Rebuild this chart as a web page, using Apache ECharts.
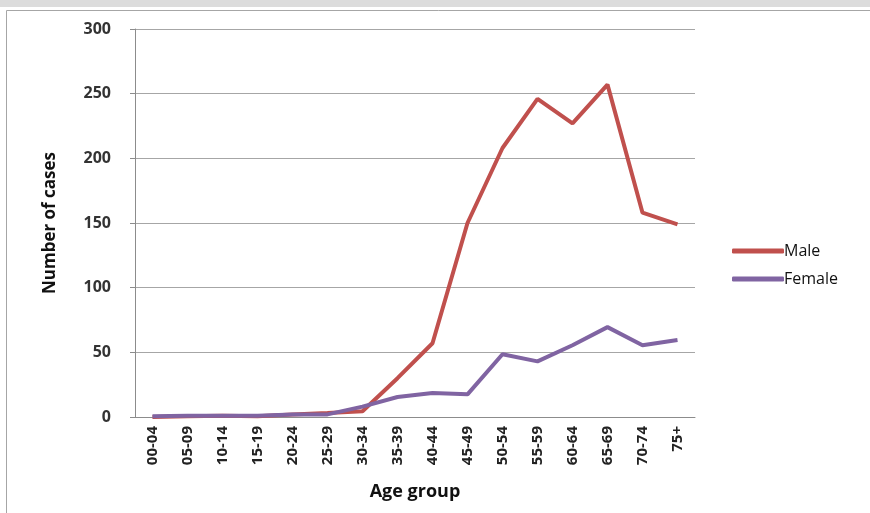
<!DOCTYPE html>
<html><head><meta charset="utf-8">
<script src="https://cdn.jsdelivr.net/npm/echarts@6/dist/echarts.min.js"></script>
<style>html,body{margin:0;padding:0;background:#fff}#c{width:870px;height:513px}</style>
</head><body><div id="c"></div>
<script>
var categories = ['00-04','05-09','10-14','15-19','20-24','25-29','30-34','35-39','40-44','45-49','50-54','55-59','60-64','65-69','70-74','75+'];
var maleValues = [0, 0.5, 1, 0.5, 2, 3, 4.5, 30, 57, 150, 208, 246, 227, 257, 158, 149];
var femaleValues = [0.5, 1, 1, 1, 2, 2, 8, 15.5, 18.5, 17.5, 48.5, 43, 55.5, 69.5, 55.5, 59.5];
var yTicks = [0, 50, 100, 150, 200, 250, 300];

var chart = echarts.init(document.getElementById('c'));
var font = 'Open Sans, Liberation Sans, sans-serif';
chart.setOption({
  animation: false,
  graphic: [
    {type:'rect', left:0, top:0, shape:{width:870, height:7}, style:{fill:'#dcdcdc'}, z:0},
    {type:'rect', left:4, top:8, shape:{width:900, height:520}, style:{fill:'none', stroke:'#a6a6a6', lineWidth:1}, z:0}
  ],
  grid: {left:135, right:175, top:29, bottom:96},
  legend: {
    orient:'vertical', left:727, top:238, itemGap:12, itemWidth:52, itemHeight:5,
    icon:'roundRect',
    textStyle:{fontFamily:font, fontSize:16, color:'#111', padding:[0,0,0,-5]},
    data:['Male','Female']
  },
  xAxis: {
    type:'category', data:categories, boundaryGap:true,
    name:'Age group', nameLocation:'middle', nameGap:66,
    nameTextStyle:{fontFamily:font, fontSize:18, fontWeight:'bold', color:'#111'},
    axisLine:{lineStyle:{color:'#8c8c8c', width:1}},
    axisTick:{show:false},
    axisLabel:{rotate:90, interval:0, fontFamily:font, fontSize:15, fontWeight:'bold', color:'#222', margin:9}
  },
  yAxis: {
    type:'value', min:yTicks[0], max:yTicks[yTicks.length-1], interval:50,
    name:'Number of cases', nameLocation:'middle', nameGap:76, nameRotate:90,
    nameTextStyle:{fontFamily:font, fontSize:17, fontWeight:'bold', color:'#111'},
    axisLine:{show:true, lineStyle:{color:'#8c8c8c', width:1}},
    axisTick:{show:true, length:5, lineStyle:{color:'#8c8c8c'}},
    splitLine:{lineStyle:{color:'#a6a6a6', width:1}},
    axisLabel:{fontFamily:font, fontSize:16, fontWeight:'bold', color:'#333', margin:24}
  },
  series: [
    {name:'Male', type:'line', data:maleValues, symbol:'none', lineStyle:{color:'#C0504D', width:4}, itemStyle:{color:'#C0504D'}, z:2},
    {name:'Female', type:'line', data:femaleValues, symbol:'none', lineStyle:{color:'#8064A2', width:4}, itemStyle:{color:'#8064A2'}, z:3}
  ]
});
</script></body></html>
